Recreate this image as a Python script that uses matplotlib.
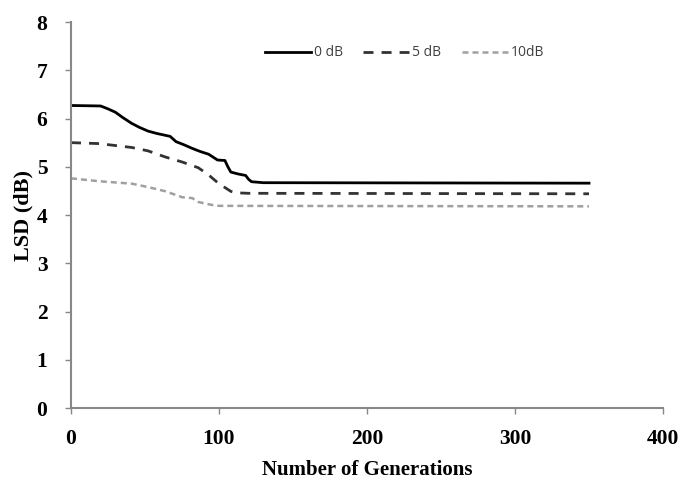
import matplotlib.pyplot as plt

# LSD vs number of generations
gen_0db = [0, 20, 25, 30, 35, 41, 46, 52, 58, 64, 67, 71, 76, 82, 87, 93, 99, 104, 106, 108, 113, 118, 120, 122, 130, 350]
lsd_0db = [6.27, 6.26, 6.20, 6.13, 6.02, 5.90, 5.82, 5.74, 5.69, 5.65, 5.63, 5.52, 5.46, 5.38, 5.32, 5.26, 5.14, 5.13, 5.00, 4.89, 4.85, 4.82, 4.74, 4.69, 4.67, 4.66]

gen_5db = [0, 19, 30, 41, 52, 64, 75, 86, 93, 98, 102, 108, 112, 120, 350]
lsd_5db = [5.50, 5.48, 5.44, 5.40, 5.33, 5.20, 5.10, 4.98, 4.83, 4.70, 4.61, 4.49, 4.46, 4.45, 4.44]

gen_10db = [0, 19, 41, 52, 64, 75, 82, 86, 95, 100, 350]
lsd_10db = [4.76, 4.70, 4.65, 4.58, 4.49, 4.37, 4.35, 4.27, 4.21, 4.19, 4.18]

xticks = [0, 100, 200, 300, 400]
yticks = [0, 1, 2, 3, 4, 5, 6, 7, 8]

fig = plt.figure(figsize=(6.8, 4.84), dpi=100)
ax = fig.add_axes([0.1044, 0.157, 0.8706, 0.7975])

ax.plot(gen_0db, lsd_0db, color='black', lw=2, label='0 dB')
ax.plot(gen_5db, lsd_5db, color='#333333', lw=2, dashes=(3.6, 2.9), label='5 dB')
ax.plot(gen_10db, lsd_10db, color='#a0a0a0', lw=1.8, dashes=(2.4, 1.6), label='10dB')

ax.set_xlim(0, 400)
ax.set_ylim(0, 8)
ax.set_xticks(xticks)
ax.set_yticks(yticks)

for side in ['top', 'right']:
    ax.spines[side].set_visible(False)
for side in ['left', 'bottom']:
    ax.spines[side].set_color('#888888')
    ax.spines[side].set_linewidth(1.5)
ax.tick_params(direction='out', length=4, width=1, color='#888888')
ax.tick_params(axis='x', pad=11)
ax.tick_params(axis='y', pad=13)

for lab in ax.get_xticklabels() + ax.get_yticklabels():
    lab.set_fontfamily('Liberation Serif')
    lab.set_fontweight('bold')
    lab.set_fontsize(15.5)

ax.set_xlabel('Number of Generations', family='Liberation Serif', weight='bold', fontsize=15, labelpad=8)
ax.set_ylabel('LSD (dB)', family='Liberation Serif', weight='bold', fontsize=16, labelpad=2)

leg = ax.legend(loc='center left', bbox_to_anchor=(0.316, 0.92), ncol=3, frameon=False,
                borderpad=0, prop={'family': 'Open Sans', 'size': 10}, handlelength=3.3,
                handletextpad=0.2, columnspacing=1.5)
for t in leg.get_texts():
    t.set_color('#404040')

fig.savefig('out.png', dpi=100)
